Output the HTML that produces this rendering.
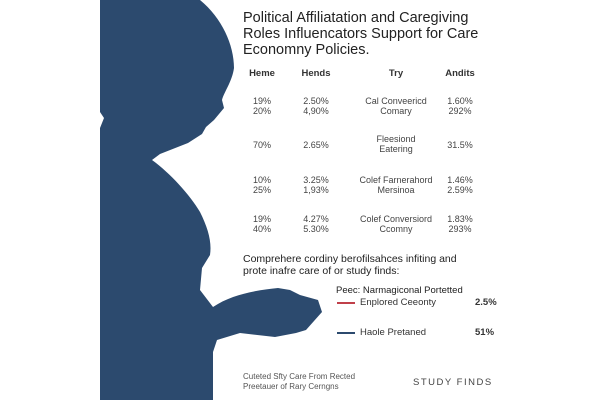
<!DOCTYPE html>
<html><head><meta charset="utf-8"><style>
body{margin:0;width:600px;height:400px;background:#fff;position:relative;overflow:hidden;font-family:"Liberation Sans",sans-serif;color:#222}
.t{position:absolute;white-space:nowrap}
.c{position:absolute;font-size:9px;color:#444;text-align:center;line-height:10px;transform:translateX(-50%)}
.h{font-weight:bold;font-size:9.5px;color:#333}
</style></head><body>
<svg width="600" height="400" style="position:absolute;left:0;top:0">
<path fill="#2c4a6e" d="M100,0 L200,0 C222,18 234,45 234,68 C232,82 224,92 222,100 L224,108 L214,120 L206,127 L202,134 L188,143 L160,154 L152,160 C170,173 190,195 200,212 C208,228 212,242 210,255 L202,268 L200,290 L213,307 C232,294 258,290 278,288 L290,290 L300,295 L318,300 L322,312 L306,330 L296,333 L275,337 L240,333 L217,340 L213,352 L213,400 L100,400 L100,128 L104,118 L100,112 Z"/>
</svg>
<div class="t" style="left:243px;top:10px;font-size:14.5px;line-height:16px;color:#222">Political Affiliatation and Caregiving<br>Roles Influencators Support for Care<br>Economny Policies.</div>
<div class="c h" style="left:262px;top:69px">Heme</div>
<div class="c h" style="left:316px;top:69px">Hends</div>
<div class="c h" style="left:396px;top:69px">Try</div>
<div class="c h" style="left:460px;top:69px">Andits</div>
<div class="c" style="left:262px;top:96px">19%<br>20%</div>
<div class="c" style="left:316px;top:96px">2.50%<br>4,90%</div>
<div class="c" style="left:396px;top:96px">Cal Conveericd<br>Comary</div>
<div class="c" style="left:460px;top:96px">1.60%<br>292%</div>
<div class="c" style="left:262px;top:140px">70%</div>
<div class="c" style="left:316px;top:140px">2.65%</div>
<div class="c" style="left:396px;top:134px">Fleesiond<br>Eatering</div>
<div class="c" style="left:460px;top:140px">31.5%</div>
<div class="c" style="left:262px;top:175px">10%<br>25%</div>
<div class="c" style="left:316px;top:175px">3.25%<br>1,93%</div>
<div class="c" style="left:396px;top:175px">Colef Farnerahord<br>Mersinoa</div>
<div class="c" style="left:460px;top:175px">1.46%<br>2.59%</div>
<div class="c" style="left:262px;top:214px">19%<br>40%</div>
<div class="c" style="left:316px;top:214px">4.27%<br>5.30%</div>
<div class="c" style="left:396px;top:214px">Colef Conversiord<br>Ccomny</div>
<div class="c" style="left:460px;top:214px">1.83%<br>293%</div>
<div class="t" style="left:243px;top:253px;font-size:10.5px;line-height:12px;color:#222">Comprehere cordiny berofilsahces infiting and<br>prote inafre care of or study finds:</div>
<div class="t" style="left:336px;top:285px;font-size:9.5px;color:#222">Peec: Narmagiconal Portetted</div>
<div style="position:absolute;left:337px;top:302px;width:18px;height:1.5px;background:#c0404a"></div>
<div class="t" style="left:360px;top:297px;font-size:9.5px;color:#333">Enplored Ceeonty</div>
<div class="t" style="left:475px;top:297px;font-size:9.5px;font-weight:bold;color:#333">2.5%</div>
<div style="position:absolute;left:337px;top:332px;width:18px;height:1.5px;background:#2c4a6e"></div>
<div class="t" style="left:360px;top:327px;font-size:9.5px;color:#333">Haole Pretaned</div>
<div class="t" style="left:475px;top:327px;font-size:9.5px;font-weight:bold;color:#333">51%</div>
<div class="t" style="left:243px;top:372px;font-size:8px;line-height:10px;color:#555">Cuteted Sfty Care From Rected<br>Preetauer of Rary Cerngns</div>
<div class="t" style="left:413px;top:377px;font-size:9.5px;letter-spacing:1.5px;color:#444">STUDY FINDS</div>
</body></html>
